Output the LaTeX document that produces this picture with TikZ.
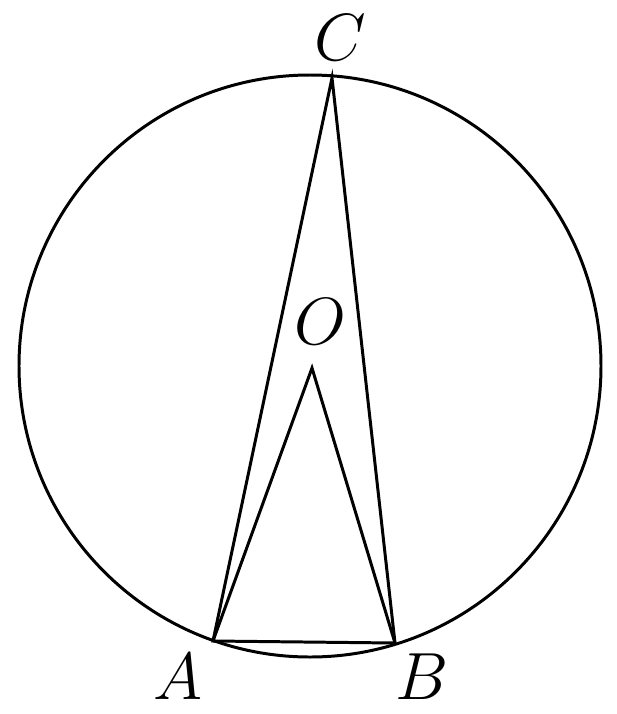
\documentclass[tikz,border=0pt]{standalone}
\usepackage{fix-cm}
\begin{document}
\begin{tikzpicture}[x=0.02cm, y=-0.02cm, line width=1.7pt,
  lbl/.style={font=\fontsize{38}{42}\selectfont, inner sep=0pt}]
  \useasboundingbox (0,0) rectangle (617,714);
  \coordinate (O) at (310,366);
  \draw (O) circle[radius=291];
  \coordinate (c) at (332,78);
  \coordinate (a) at (213,641);
  \coordinate (b) at (395,643);
  \coordinate (o) at (312,368);
  \draw (a) -- (c) -- (b) -- cycle;
  \draw (a) -- (o) -- (b);
  \node[lbl] (lc) at (340,38) {$C$};
  \node[lbl] (la) at (178,677) {$A$};
  \node[lbl] (lb) at (422,677) {$B$};
  \node[lbl] (lo) at (320,322) {$O$};
\end{tikzpicture}
\end{document}
